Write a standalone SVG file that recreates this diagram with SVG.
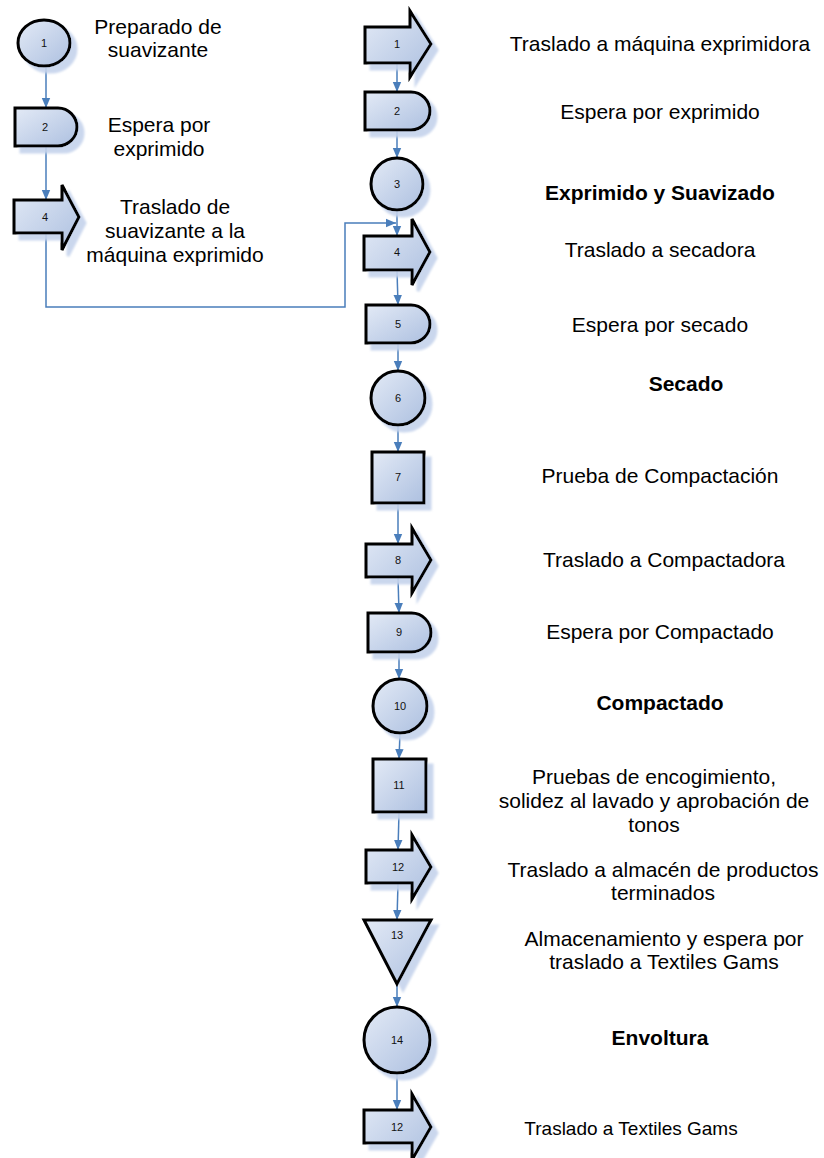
<svg xmlns="http://www.w3.org/2000/svg" width="824" height="1158" viewBox="0 0 824 1158">
  <defs>
    <linearGradient id="fillGrad" x1="0" y1="0" x2="1" y2="1">
      <stop offset="0" stop-color="#e3eaf6"/>
      <stop offset="1" stop-color="#adc0e0"/>
    </linearGradient>
    <filter id="drop" x="-20%" y="-20%" width="160%" height="160%">
      <feOffset in="SourceAlpha" dx="6" dy="6" result="off"/>
      <feGaussianBlur in="off" stdDeviation="1.2" result="blur"/>
      <feFlood flood-color="#c5d3ec" flood-opacity="0.9"/>
      <feComposite operator="in" in2="blur" result="shadow"/>
      <feMerge>
        <feMergeNode in="shadow"/>
        <feMergeNode in="SourceGraphic"/>
      </feMerge>
    </filter>
    <marker id="arrow" viewBox="0 0 10 10" refX="10" refY="5" markerWidth="10" markerHeight="10" markerUnits="userSpaceOnUse" orient="auto">
      <path d="M0,0.8 L10,5 L0,9.2 Z" fill="#4a7ebb"/>
    </marker>
  </defs>
  <style>
    .shape { fill: url(#fillGrad); stroke: #000; stroke-width: 3; stroke-linejoin: miter; filter: url(#drop); }
    .num { font-family: "Liberation Sans", Arial, sans-serif; font-size: 11px; fill: #111; text-anchor: middle; }
    .lbl { font-family: "Liberation Sans", Arial, sans-serif; font-size: 21px; fill: #000; text-anchor: middle; }
    .bold { font-weight: bold; }
    .conn { fill: none; stroke: #4a7ebb; stroke-width: 1.5; marker-end: url(#arrow); }
  </style>

  <!-- connectors -->
  <g id="connectors">
    <path class="conn" d="M46,66 V108"/>
    <path class="conn" d="M46,146 V200"/>
    <path class="conn" d="M46,233 V307 H345 V223 H396"/>
    <path class="conn" d="M397,63 V92"/>
    <path class="conn" d="M397,130 V158"/>
    <path class="conn" d="M397,210 V236"/>
    <path class="conn" d="M397,270 L398,305"/>
    <path class="conn" d="M398,343 V371"/>
    <path class="conn" d="M398,425 V452"/>
    <path class="conn" d="M398,503 V544"/>
    <path class="conn" d="M398,577 L399,613"/>
    <path class="conn" d="M399,652 V679"/>
    <path class="conn" d="M400,733 L399,759"/>
    <path class="conn" d="M399,812 L398,850"/>
    <path class="conn" d="M398,883 L397,920"/>
    <path class="conn" d="M397,984 V1007"/>
    <path class="conn" d="M397,1073 V1110"/>
  </g>

  <!-- left branch -->
  <g id="l1">
    <ellipse class="shape" cx="44" cy="43" rx="26" ry="23"/>
    <text class="num" x="44" y="47">1</text>
    <text class="lbl" x="158" y="34">Preparado de</text>
    <text class="lbl" x="158" y="57">suavizante</text>
  </g>
  <g id="l2">
    <path class="shape" d="M15,108 H58 A19,19 0 0 1 58,146 H15 Z"/>
    <text class="num" x="45" y="131">2</text>
    <text class="lbl" x="159" y="132">Espera por</text>
    <text class="lbl" x="159" y="156">exprimido</text>
  </g>
  <g id="l4">
    <path class="shape" d="M14,200 H62 V185 L79,217 L62,250 V233 H14 Z"/>
    <text class="num" x="45" y="221">4</text>
    <text class="lbl" x="175" y="214">Traslado de</text>
    <text class="lbl" x="175" y="238">suavizante a la</text>
    <text class="lbl" x="175" y="262">máquina exprimido</text>
  </g>

  <!-- main column -->
  <g id="n1">
    <path class="shape" d="M365,27 H410 V11 L431,44 L410,77 V63 H365 Z"/>
    <text class="num" x="397" y="48">1</text>
    <text class="lbl" x="660" y="51">Traslado a máquina exprimidora</text>
  </g>
  <g id="n2">
    <path class="shape" d="M365,92 H411 A19,19 0 0 1 411,130 H365 Z"/>
    <text class="num" x="397" y="115">2</text>
    <text class="lbl" x="660" y="119">Espera por exprimido</text>
  </g>
  <g id="n3">
    <circle class="shape" cx="397" cy="184" r="26"/>
    <text class="num" x="397" y="188">3</text>
    <text class="lbl bold" x="660" y="200">Exprimido y Suavizado</text>
  </g>
  <g id="n4">
    <path class="shape" d="M364,236 H412 V219 L430,252 L412,285 V270 H364 Z"/>
    <text class="num" x="397" y="256">4</text>
    <text class="lbl" x="660" y="257">Traslado a secadora</text>
  </g>
  <g id="n5">
    <path class="shape" d="M366,305 H411 A19,19 0 0 1 411,343 H366 Z"/>
    <text class="num" x="398" y="328">5</text>
    <text class="lbl" x="660" y="332">Espera por secado</text>
  </g>
  <g id="n6">
    <circle class="shape" cx="398" cy="398" r="27"/>
    <text class="num" x="398" y="402">6</text>
    <text class="lbl bold" x="686" y="391">Secado</text>
  </g>
  <g id="n7">
    <rect class="shape" x="372" y="452" width="52" height="51"/>
    <text class="num" x="398" y="481">7</text>
    <text class="lbl" x="660" y="483">Prueba de Compactación</text>
  </g>
  <g id="n8">
    <path class="shape" d="M366,544 H412 V528 L431,560 L412,593 V577 H366 Z"/>
    <text class="num" x="398" y="564">8</text>
    <text class="lbl" x="664" y="567">Traslado a Compactadora</text>
  </g>
  <g id="n9">
    <path class="shape" d="M368,613 H411.5 A19.5,19.5 0 0 1 411.5,652 H368 Z"/>
    <text class="num" x="399" y="636">9</text>
    <text class="lbl" x="660" y="639">Espera por Compactado</text>
  </g>
  <g id="n10">
    <circle class="shape" cx="400" cy="706" r="27"/>
    <text class="num" x="400" y="710">10</text>
    <text class="lbl bold" x="660" y="710">Compactado</text>
  </g>
  <g id="n11">
    <rect class="shape" x="373" y="759" width="53" height="53"/>
    <text class="num" x="399" y="789">11</text>
    <text class="lbl" x="654" y="784">Pruebas de encogimiento,</text>
    <text class="lbl" x="654" y="808">solidez al lavado y aprobación de</text>
    <text class="lbl" x="654" y="832">tonos</text>
  </g>
  <g id="n12">
    <path class="shape" d="M366,850 H412 V835 L431,867 L412,899 V883 H366 Z"/>
    <text class="num" x="398" y="871">12</text>
    <text class="lbl" x="663" y="877">Traslado a almacén de productos</text>
    <text class="lbl" x="663" y="900">terminados</text>
  </g>
  <g id="n13">
    <path class="shape" d="M364,920 H431 L397,984 Z"/>
    <text class="num" x="397" y="939">13</text>
    <text class="lbl" x="664" y="946">Almacenamiento y espera por</text>
    <text class="lbl" x="664" y="969">traslado a Textiles Gams</text>
  </g>
  <g id="n14">
    <circle class="shape" cx="397" cy="1040" r="33"/>
    <text class="num" x="397" y="1044">14</text>
    <text class="lbl bold" x="660" y="1045">Envoltura</text>
  </g>
  <g id="n15">
    <path class="shape" d="M364,1110 H412 V1094 L431,1127 L412,1160 V1143 H364 Z"/>
    <text class="num" x="397" y="1131">12</text>
    <text class="lbl" x="631" y="1135" style="font-size:19px">Traslado a Textiles Gams</text>
  </g>
</svg>
